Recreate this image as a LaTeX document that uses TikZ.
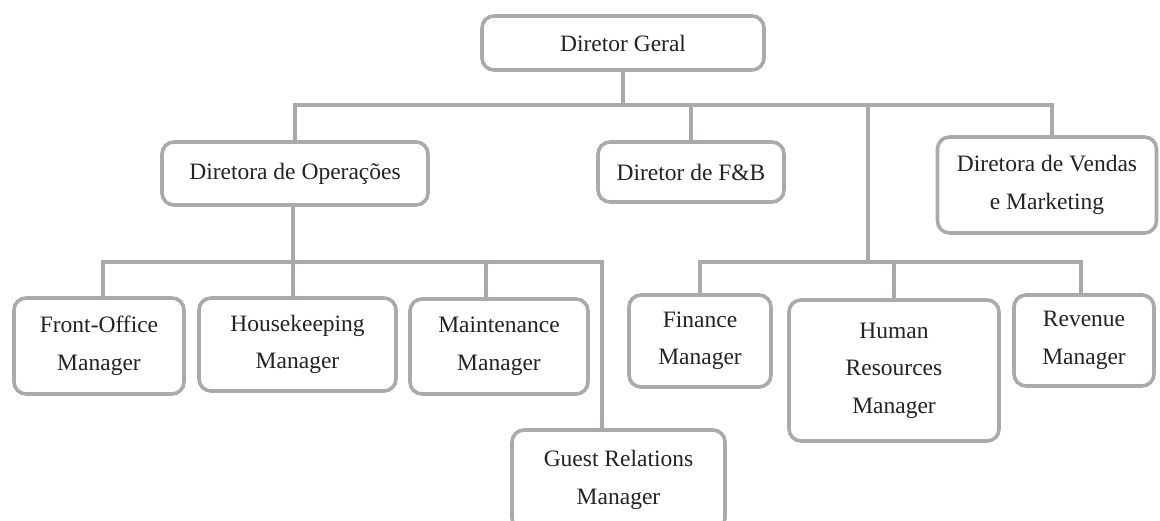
\documentclass[tikz,border=0pt]{standalone}
\usepackage{fontspec}
\setmainfont{Liberation Serif}
\definecolor{linegray}{RGB}{171,169,169}
\definecolor{txt}{RGB}{35,35,35}
\begin{document}
\begin{tikzpicture}[x=1pt,y=-1pt,
  box/.style={draw=linegray, line width=3.6pt, rounded corners=12pt, fill=white,
    text=txt, align=center, inner sep=0pt,
    font=\fontsize{23.5}{37.5}\selectfont},
  conn/.style={draw=linegray, line width=3.6pt}]
\useasboundingbox (0,0) rectangle (1160,521);

% top level
\node[box, minimum width=282, minimum height=54] (dg) at (623,43) {Diretor Geral};

% directors
\node[box, minimum width=266, minimum height=63] (ops) at (295,173.5) {Diretora de Operações};
\node[box, minimum width=186, minimum height=60] (fb) at (691,172) {Diretor de F\&B};
\node[box, minimum width=219, minimum height=96] (vm) at (1047,185) {Diretora de Vendas\\e Marketing};

% operations managers
\node[box, minimum width=170, minimum height=96] (fo) at (99,346) {Front-Office\\Manager};
\node[box, minimum width=197, minimum height=93] (hk) at (297.5,344.5) {Housekeeping\\Manager};
\node[box, minimum width=178, minimum height=95] (mt) at (499,346.5) {Maintenance\\Manager};
\node[box, minimum width=213, minimum height=100] (gr) at (618.5,480) {Guest Relations\\Manager};

% corporate managers
\node[box, minimum width=142, minimum height=92] (fin) at (700,341) {Finance\\Manager};
\node[box, minimum width=210, minimum height=141] (hr) at (894,370.5) {Human\\Resources\\Manager};
\node[box, minimum width=140, minimum height=91] (rev) at (1084,340.5) {Revenue\\Manager};

% junction points of the bars
\coordinate (tl) at (295,105);
\coordinate (tr) at (1052,105);
\coordinate (rj) at (868,262);
\coordinate (rl) at (700,262);
\coordinate (rr) at (1081,262);
\coordinate (ll) at (103,262);
\coordinate (lm) at (486,262);
\coordinate (lr) at (602,262);

% director bar
\draw[conn] (dg.south) -- (dg.south |- tl);
\draw[conn] (tl |- ops.north) -- (tl) -- (tr) -- (tr |- vm.north);
\draw[conn] (fb.north) -- (fb.north |- tl);
\draw[conn] (rj |- tl) -- (rj);

% corporate bar
\draw[conn] (rl |- fin.north) -- (rl) -- (rr) -- (rr |- rev.north);
\draw[conn] (hr.north) -- (hr.north |- rj);

% operations bar
\draw[conn] (ops.south -| 293,0) -- (293,262);
\draw[conn] (ll |- fo.north) -- (ll) -- (lr) -- (lr |- gr.north);
\draw[conn] (293,262) -- (293,0 |- hk.north);
\draw[conn] (lm) -- (lm |- mt.north);
\end{tikzpicture}
\end{document}
